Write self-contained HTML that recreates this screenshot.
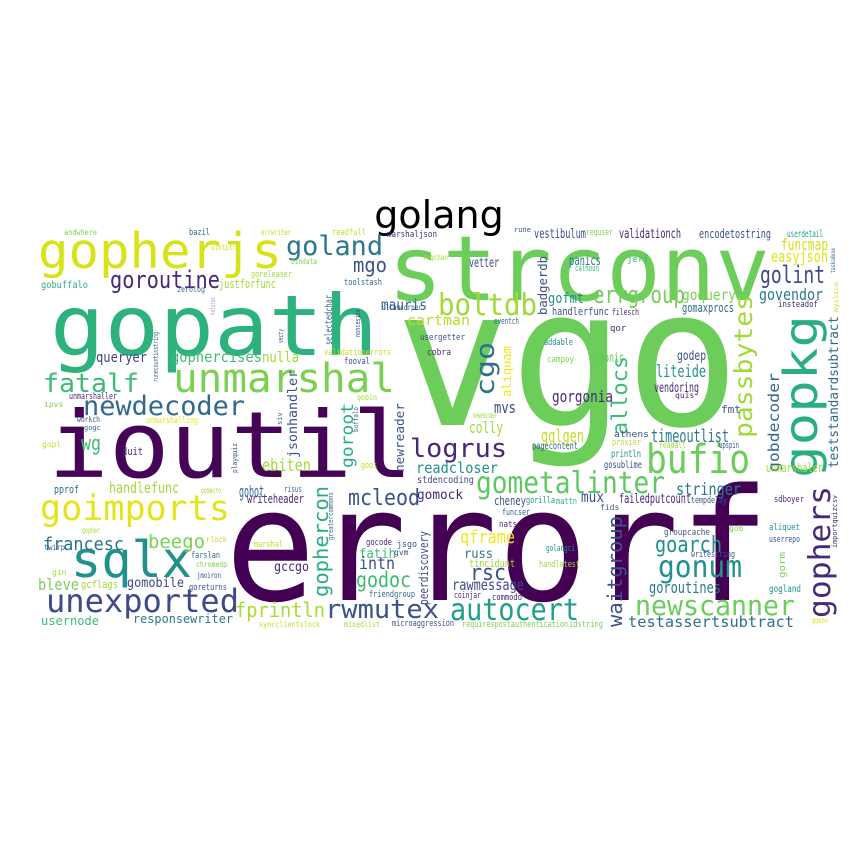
<!DOCTYPE html>
<html><head><meta charset="utf-8"><style>
html,body{margin:0;padding:0;background:#fff;width:864px;height:864px;overflow:hidden}
svg{display:block}
text{font-family:"DejaVu Sans Mono","Liberation Mono",monospace}
</style></head><body>
<svg width="864" height="864" viewBox="0 0 864 864" xmlns="http://www.w3.org/2000/svg">
<rect width="864" height="864" fill="#fff"/>
<text x="439" y="228" font-size="38" fill="#000" text-anchor="middle" style="font-family:'DejaVu Sans','Liberation Sans',sans-serif">golang</text>
<g>
<text x="395" y="425" font-size="192" fill="#6ccd5a" textLength="345" lengthAdjust="spacingAndGlyphs">vgo</text>
<text x="225" y="600" font-size="156" fill="#440154" textLength="545" lengthAdjust="spacingAndGlyphs">errorf</text>
<text x="48" y="477" font-size="92" fill="#450457" textLength="365" lengthAdjust="spacingAndGlyphs">ioutil</text>
<text x="50" y="355" font-size="84" fill="#2db27d" textLength="328" lengthAdjust="spacingAndGlyphs">gopath</text>
<text x="388" y="300" font-size="90" fill="#6ccd5a" textLength="382" lengthAdjust="spacingAndGlyphs">strconv</text>
<text x="38" y="268" font-size="49" fill="#d8e219" textLength="244" lengthAdjust="spacingAndGlyphs">gopherjs</text>
<text x="173" y="392" font-size="40" fill="#7ad151" textLength="222" lengthAdjust="spacingAndGlyphs">unmarshal</text>
<text x="71" y="577" font-size="50" fill="#21918c" textLength="121" lengthAdjust="spacingAndGlyphs">sqlx</text>
<text x="40" y="520" font-size="35" fill="#e5e419" textLength="190" lengthAdjust="spacingAndGlyphs">goimports</text>
<text x="46" y="612" font-size="32" fill="#3e4a89" textLength="193" lengthAdjust="spacingAndGlyphs">unexported</text>
<text x="43" y="392" font-size="26" fill="#3dbc74" textLength="96" lengthAdjust="spacingAndGlyphs">fatalf</text>
<text x="83" y="415" font-size="27" fill="#31688e" textLength="162" lengthAdjust="spacingAndGlyphs">newdecoder</text>
<text x="110" y="288" font-size="24" fill="#482878" textLength="110" lengthAdjust="spacingAndGlyphs">goroutine</text>
<text x="286" y="255" font-size="27" fill="#2a788e" textLength="97" lengthAdjust="spacingAndGlyphs">goland</text>
<text x="353" y="272" font-size="20" fill="#3b528b" textLength="34" lengthAdjust="spacingAndGlyphs">mgo</text>
<text x="438" y="315" font-size="30" fill="#a0da39" textLength="99" lengthAdjust="spacingAndGlyphs">boltdb</text>
<text x="593" y="303" font-size="24" fill="#73d056" textLength="92" lengthAdjust="spacingAndGlyphs">errgroup</text>
<text x="760" y="283" font-size="24" fill="#3e4a89" textLength="65" lengthAdjust="spacingAndGlyphs">golint</text>
<text x="646" y="473" font-size="40" fill="#6ccd5a" textLength="104" lengthAdjust="spacingAndGlyphs">bufio</text>
<text x="410" y="457" font-size="26" fill="#482878" textLength="97" lengthAdjust="spacingAndGlyphs">logrus</text>
<text x="476" y="493" font-size="30" fill="#5ec962" textLength="189" lengthAdjust="spacingAndGlyphs">gometalinter</text>
<text x="348" y="505" font-size="22" fill="#3b528b" textLength="72" lengthAdjust="spacingAndGlyphs">mcleod</text>
<text x="658" y="577" font-size="30" fill="#21918c" textLength="84" lengthAdjust="spacingAndGlyphs">gonum</text>
<text x="655" y="552" font-size="22" fill="#21918c" textLength="67" lengthAdjust="spacingAndGlyphs">goarch</text>
<text x="450" y="620" font-size="30" fill="#1f9e89" textLength="129" lengthAdjust="spacingAndGlyphs">autocert</text>
<text x="635" y="615" font-size="28" fill="#6ccd5a" textLength="160" lengthAdjust="spacingAndGlyphs">newscanner</text>
<text x="325" y="618" font-size="26" fill="#3b528b" textLength="114" lengthAdjust="spacingAndGlyphs">rwmutex</text>
<text x="235" y="617" font-size="20" fill="#a8db34" textLength="90" lengthAdjust="spacingAndGlyphs">fprintln</text>
<text x="628" y="627" font-size="15" fill="#2c728e" textLength="166" lengthAdjust="spacingAndGlyphs">testassertsubtract</text>
<text x="356" y="587" font-size="21" fill="#3dbc74" textLength="55" lengthAdjust="spacingAndGlyphs">godoc</text>
<text x="470" y="580" font-size="22" fill="#3b528b" textLength="36" lengthAdjust="spacingAndGlyphs">rsc</text>
<text x="460" y="543" font-size="18" fill="#f1e51d" textLength="55" lengthAdjust="spacingAndGlyphs">qframe</text>
<text x="148" y="548" font-size="19" fill="#7ad151" textLength="57" lengthAdjust="spacingAndGlyphs">beego</text>
<text x="43" y="550" font-size="18" fill="#2c728e" textLength="81" lengthAdjust="spacingAndGlyphs">francesc</text>
<text transform="translate(817,478) rotate(-90)" font-size="46" fill="#29af7f" textLength="163" lengthAdjust="spacingAndGlyphs">gopkg</text>
<text transform="translate(830,618) rotate(-90)" font-size="30" fill="#482878" textLength="132" lengthAdjust="spacingAndGlyphs">gophers</text>
<text transform="translate(752,438) rotate(-90)" font-size="25" fill="#a0da39" textLength="143" lengthAdjust="spacingAndGlyphs">passbytes</text>
<text transform="translate(779,472) rotate(-90)" font-size="15" fill="#31688e" textLength="99" lengthAdjust="spacingAndGlyphs">gobdecoder</text>
<text transform="translate(838,468) rotate(-90)" font-size="13" fill="#31688e" textLength="152" lengthAdjust="spacingAndGlyphs">teststandardsubtract</text>
<text transform="translate(622,627) rotate(-90)" font-size="20" fill="#3b528b" textLength="111" lengthAdjust="spacingAndGlyphs">waitgroup</text>
<text transform="translate(328,597) rotate(-90)" font-size="20" fill="#29af7f" textLength="111" lengthAdjust="spacingAndGlyphs">gophercon</text>
<text transform="translate(428,605) rotate(-90)" font-size="12" fill="#3e4a89" textLength="74" lengthAdjust="spacingAndGlyphs">peerdiscovery</text>
<text transform="translate(297,458) rotate(-90)" font-size="13" fill="#3b528b" textLength="88" lengthAdjust="spacingAndGlyphs">jsonhandler</text>
<text transform="translate(353,468) rotate(-90)" font-size="17" fill="#29af7f" textLength="65" lengthAdjust="spacingAndGlyphs">goroot</text>
<text transform="translate(404,472) rotate(-90)" font-size="12" fill="#3b528b" textLength="69" lengthAdjust="spacingAndGlyphs">newreader</text>
<text transform="translate(494,396) rotate(-90)" font-size="26" fill="#2c728e" textLength="54" lengthAdjust="spacingAndGlyphs">cgo</text>
<text transform="translate(627,435) rotate(-90)" font-size="21" fill="#3dbc74" textLength="79" lengthAdjust="spacingAndGlyphs">allocs</text>
<text transform="translate(511,397) rotate(-90)" font-size="12" fill="#f1e51d" textLength="51" lengthAdjust="spacingAndGlyphs">aliquam</text>
<text transform="translate(547,315) rotate(-90)" font-size="12" fill="#3b528b" textLength="59" lengthAdjust="spacingAndGlyphs">badgerdb</text>
<text transform="translate(332,345) rotate(-90)" font-size="10" fill="#31688e" textLength="50" lengthAdjust="spacingAndGlyphs">selectedchar</text>
<text transform="translate(158,382) rotate(-90)" font-size="7" fill="#3b528b" textLength="50" lengthAdjust="spacingAndGlyphs">runecountinstring</text>
<text transform="translate(333,540) rotate(-90)" font-size="7" fill="#31688e" textLength="48" lengthAdjust="spacingAndGlyphs">greatercommons</text>
<text transform="translate(237,473) rotate(-90)" font-size="7" fill="#3b528b" textLength="30" lengthAdjust="spacingAndGlyphs">playquiz</text>
<text transform="translate(360,337) rotate(-90)" font-size="7" fill="#3b528b" textLength="28" lengthAdjust="spacingAndGlyphs">noncesize</text>
<text transform="translate(283,343) rotate(-90)" font-size="7" fill="#3b528b" textLength="14" lengthAdjust="spacingAndGlyphs">vecty</text>
<text transform="translate(282,425) rotate(-90)" font-size="7" fill="#31688e">siv</text>
<text transform="translate(358,432) rotate(-90)" font-size="7" fill="#31688e" textLength="25" lengthAdjust="spacingAndGlyphs">buffalo</text>
<text transform="translate(215,315) rotate(-90)" font-size="7" fill="#b5a0d0" textLength="18" lengthAdjust="spacingAndGlyphs">kataras</text>
<text transform="translate(785,578) rotate(-90)" font-size="9" fill="#7ad151" textLength="26" lengthAdjust="spacingAndGlyphs">gorm</text>
<text transform="translate(837,548) rotate(-90)" font-size="7" fill="#482878" textLength="53" lengthAdjust="spacingAndGlyphs">importquizcsv</text>
<text transform="translate(835,273) rotate(-90)" font-size="6" fill="#31688e" textLength="25" lengthAdjust="spacingAndGlyphs">tasksdone</text>
<text transform="translate(838,312) rotate(-90)" font-size="6" fill="#c2df23" textLength="30" lengthAdjust="spacingAndGlyphs">myslice</text>
<text x="381" y="310" font-size="15" fill="#31688e" textLength="46" lengthAdjust="spacingAndGlyphs">mauris</text>
<text x="407" y="325" font-size="14" fill="#b5de2b" textLength="63" lengthAdjust="spacingAndGlyphs">cartman</text>
<text x="96" y="362" font-size="14" fill="#414487" textLength="51" lengthAdjust="spacingAndGlyphs">queryer</text>
<text x="171" y="362" font-size="15" fill="#3dbc74" textLength="91" lengthAdjust="spacingAndGlyphs">gophercises</text>
<text x="262" y="362" font-size="14" fill="#a0da39" textLength="37" lengthAdjust="spacingAndGlyphs">nulla</text>
<text x="548" y="303" font-size="14" fill="#21918c" textLength="36" lengthAdjust="spacingAndGlyphs">gofmt</text>
<text x="552" y="315" font-size="11" fill="#3b528b" textLength="57" lengthAdjust="spacingAndGlyphs">handlerfunc</text>
<text x="612" y="315" font-size="9" fill="#482878" textLength="27" lengthAdjust="spacingAndGlyphs">filesch</text>
<text x="682" y="300" font-size="15" fill="#7ad151" textLength="54" lengthAdjust="spacingAndGlyphs">goquery</text>
<text x="759" y="300" font-size="16" fill="#2a788e" textLength="64" lengthAdjust="spacingAndGlyphs">govendor</text>
<text x="682" y="312" font-size="12" fill="#31688e" textLength="52" lengthAdjust="spacingAndGlyphs">gomaxprocs</text>
<text x="778" y="307" font-size="9" fill="#482878" textLength="40" lengthAdjust="spacingAndGlyphs">insteadof</text>
<text x="771" y="262" font-size="16" fill="#e2e418" textLength="57" lengthAdjust="spacingAndGlyphs">easyjson</text>
<text x="781" y="250" font-size="16" fill="#d0e11c" textLength="47" lengthAdjust="spacingAndGlyphs">funcmap</text>
<text x="699" y="238" font-size="12" fill="#3b528b" textLength="72" lengthAdjust="spacingAndGlyphs">encodetostring</text>
<text x="787" y="237" font-size="10" fill="#1f9e89" textLength="36" lengthAdjust="spacingAndGlyphs">userdetail</text>
<text x="619" y="238" font-size="13" fill="#482878" textLength="62" lengthAdjust="spacingAndGlyphs">validationch</text>
<text x="534" y="238" font-size="13" fill="#3b528b" textLength="52" lengthAdjust="spacingAndGlyphs">vestibulum</text>
<text x="586" y="235" font-size="9" fill="#7ad151" textLength="27" lengthAdjust="spacingAndGlyphs">requser</text>
<text x="514" y="232" font-size="7" fill="#3b528b">rune</text>
<text x="469" y="267" font-size="13" fill="#3e4a89" textLength="30" lengthAdjust="spacingAndGlyphs">vetter</text>
<text x="569" y="265" font-size="13" fill="#2a788e" textLength="32" lengthAdjust="spacingAndGlyphs">panics</text>
<text x="575" y="271" font-size="9" fill="#35b779" textLength="24" lengthAdjust="spacingAndGlyphs">calhoun</text>
<text x="627" y="262" font-size="9" fill="#35b779">jerf</text>
<text x="423" y="260" font-size="8" fill="#a0da39" textLength="25" lengthAdjust="spacingAndGlyphs">reqchan</text>
<text x="494" y="324" font-size="9" fill="#31688e" textLength="25" lengthAdjust="spacingAndGlyphs">eventch</text>
<text x="610" y="331" font-size="9" fill="#482878">qor</text>
<text x="420" y="340" font-size="9" fill="#3b528b" textLength="45" lengthAdjust="spacingAndGlyphs">usergetter</text>
<text x="544" y="345" font-size="9" fill="#21918c" textLength="29" lengthAdjust="spacingAndGlyphs">addable</text>
<text x="427" y="355" font-size="9" fill="#482878" textLength="24" lengthAdjust="spacingAndGlyphs">cobra</text>
<text x="547" y="362" font-size="9" fill="#7ad151" textLength="27" lengthAdjust="spacingAndGlyphs">campoy</text>
<text x="599" y="362" font-size="13" fill="#5ec962" textLength="25" lengthAdjust="spacingAndGlyphs">gonic</text>
<text x="677" y="360" font-size="13" fill="#3b528b" textLength="29" lengthAdjust="spacingAndGlyphs">godep</text>
<text x="656" y="377" font-size="17" fill="#21918c" textLength="50" lengthAdjust="spacingAndGlyphs">liteide</text>
<text x="654" y="392" font-size="13" fill="#482878" textLength="45" lengthAdjust="spacingAndGlyphs">vendoring</text>
<text x="675" y="398" font-size="8" fill="#482878">quis</text>
<text x="552" y="402" font-size="16" fill="#482878" textLength="61" lengthAdjust="spacingAndGlyphs">gorgonia</text>
<text x="494" y="413" font-size="16" fill="#3e4a89" textLength="22" lengthAdjust="spacingAndGlyphs">mvs</text>
<text x="473" y="418" font-size="8" fill="#a0da39" textLength="24" lengthAdjust="spacingAndGlyphs">newencoder</text>
<text x="469" y="433" font-size="16" fill="#a0da39" textLength="34" lengthAdjust="spacingAndGlyphs">colly</text>
<text x="721" y="413" font-size="11" fill="#3b528b">fmt</text>
<text x="719" y="448" font-size="9" fill="#3b528b" textLength="20" lengthAdjust="spacingAndGlyphs">upspin</text>
<text x="766" y="472" font-size="12" fill="#a0da39" textLength="57" lengthAdjust="spacingAndGlyphs">unmarshaler</text>
<text x="774" y="502" font-size="9" fill="#482878" textLength="30" lengthAdjust="spacingAndGlyphs">sdboyer</text>
<text x="769" y="530" font-size="9" fill="#21918c" textLength="31" lengthAdjust="spacingAndGlyphs">aliquet</text>
<text x="769" y="542" font-size="9" fill="#3b528b" textLength="31" lengthAdjust="spacingAndGlyphs">userrepo</text>
<text x="769" y="592" font-size="10" fill="#21918c" textLength="32" lengthAdjust="spacingAndGlyphs">gogland</text>
<text x="812" y="623" font-size="8" fill="#d8e219" textLength="16" lengthAdjust="spacingAndGlyphs">goenv</text>
<text x="729" y="531" font-size="8" fill="#7ad151">gob</text>
<text x="651" y="442" font-size="18" fill="#2a788e" textLength="78" lengthAdjust="spacingAndGlyphs">timeoutlist</text>
<text x="614" y="437" font-size="9" fill="#3b528b" textLength="35" lengthAdjust="spacingAndGlyphs">athens</text>
<text x="612" y="445" font-size="9" fill="#b5de2b" textLength="29" lengthAdjust="spacingAndGlyphs">proxier</text>
<text x="659" y="448" font-size="9" fill="#a0da39" textLength="27" lengthAdjust="spacingAndGlyphs">readall</text>
<text x="611" y="457" font-size="10" fill="#21918c" textLength="30" lengthAdjust="spacingAndGlyphs">println</text>
<text x="604" y="468" font-size="10" fill="#3b528b" textLength="38" lengthAdjust="spacingAndGlyphs">gosublime</text>
<text x="541" y="442" font-size="18" fill="#c2df23" textLength="43" lengthAdjust="spacingAndGlyphs">gqlgen</text>
<text x="532" y="449" font-size="10" fill="#31688e" textLength="46" lengthAdjust="spacingAndGlyphs">pagecontent</text>
<text x="416" y="473" font-size="15" fill="#21918c" textLength="82" lengthAdjust="spacingAndGlyphs">readcloser</text>
<text x="417" y="483" font-size="10" fill="#3e4a89" textLength="57" lengthAdjust="spacingAndGlyphs">stdencoding</text>
<text x="417" y="499" font-size="13" fill="#482878" textLength="46" lengthAdjust="spacingAndGlyphs">gomock</text>
<text x="676" y="495" font-size="17" fill="#2a788e" textLength="65" lengthAdjust="spacingAndGlyphs">stringer</text>
<text x="494" y="505" font-size="12" fill="#3b528b" textLength="32" lengthAdjust="spacingAndGlyphs">cheney</text>
<text x="526" y="503" font-size="9" fill="#21918c" textLength="29" lengthAdjust="spacingAndGlyphs">gorilla</text>
<text x="556" y="504" font-size="9" fill="#35b779" textLength="21" lengthAdjust="spacingAndGlyphs">mattn</text>
<text x="581" y="502" font-size="15" fill="#3b528b" textLength="23" lengthAdjust="spacingAndGlyphs">mux</text>
<text x="600" y="510" font-size="8" fill="#3b528b">fids</text>
<text x="619" y="503" font-size="13" fill="#482878" textLength="72" lengthAdjust="spacingAndGlyphs">failedputcount</text>
<text x="691" y="503" font-size="9" fill="#3b528b" textLength="36" lengthAdjust="spacingAndGlyphs">tempdelay</text>
<text x="502" y="515" font-size="9" fill="#31688e" textLength="28" lengthAdjust="spacingAndGlyphs">funcser</text>
<text x="499" y="527" font-size="9" fill="#482878" textLength="18" lengthAdjust="spacingAndGlyphs">nats</text>
<text x="664" y="535" font-size="9" fill="#3b528b" textLength="46" lengthAdjust="spacingAndGlyphs">groupcache</text>
<text x="691" y="557" font-size="9" fill="#3b528b" textLength="44" lengthAdjust="spacingAndGlyphs">writestring</text>
<text x="546" y="551" font-size="9" fill="#21918c" textLength="29" lengthAdjust="spacingAndGlyphs">golangci</text>
<text x="539" y="567" font-size="9" fill="#a0da39" textLength="41" lengthAdjust="spacingAndGlyphs">handletest</text>
<text x="464" y="558" font-size="13" fill="#2a788e" textLength="29" lengthAdjust="spacingAndGlyphs">russ</text>
<text x="469" y="567" font-size="11" fill="#a0da39" textLength="46" lengthAdjust="spacingAndGlyphs">tincidunt</text>
<text x="452" y="590" font-size="15" fill="#3e4a89" textLength="72" lengthAdjust="spacingAndGlyphs">rawmessage</text>
<text x="454" y="598" font-size="9" fill="#482878" textLength="27" lengthAdjust="spacingAndGlyphs">coinjar</text>
<text x="492" y="600" font-size="9" fill="#482878" textLength="30" lengthAdjust="spacingAndGlyphs">commodo</text>
<text x="649" y="593" font-size="16" fill="#2a788e" textLength="72" lengthAdjust="spacingAndGlyphs">goroutines</text>
<text x="462" y="627" font-size="9" fill="#7ad151" textLength="106" lengthAdjust="spacingAndGlyphs">requirespostauthentication</text>
<text x="569" y="627" font-size="9" fill="#7ad151" textLength="34" lengthAdjust="spacingAndGlyphs">idstring</text>
<text x="392" y="626" font-size="9" fill="#3b528b" textLength="62" lengthAdjust="spacingAndGlyphs">microaggression</text>
<text x="259" y="627" font-size="8" fill="#c2df23" textLength="61" lengthAdjust="spacingAndGlyphs">syncclientslock</text>
<text x="344" y="627" font-size="8" fill="#a0da39" textLength="36" lengthAdjust="spacingAndGlyphs">mixedlist</text>
<text x="41" y="625" font-size="12" fill="#3dbc74" textLength="58" lengthAdjust="spacingAndGlyphs">usernode</text>
<text x="133" y="623" font-size="12" fill="#2a788e" textLength="100" lengthAdjust="spacingAndGlyphs">responsewriter</text>
<text x="38" y="590" font-size="16" fill="#7ad151" textLength="41" lengthAdjust="spacingAndGlyphs">bleve</text>
<text x="81" y="588" font-size="11" fill="#a0da39" textLength="37" lengthAdjust="spacingAndGlyphs">gcflags</text>
<text x="127" y="587" font-size="13" fill="#404688" textLength="57" lengthAdjust="spacingAndGlyphs">gomobile</text>
<text x="274" y="571" font-size="13" fill="#482878" textLength="35" lengthAdjust="spacingAndGlyphs">gccgo</text>
<text x="359" y="558" font-size="13" fill="#3dbc74" textLength="37" lengthAdjust="spacingAndGlyphs">fatih</text>
<text x="359" y="569" font-size="17" fill="#3b528b" textLength="36" lengthAdjust="spacingAndGlyphs">intn</text>
<text x="366" y="545" font-size="9" fill="#482878" textLength="26" lengthAdjust="spacingAndGlyphs">gocode</text>
<text x="397" y="547" font-size="9" fill="#3b528b" textLength="20" lengthAdjust="spacingAndGlyphs">jsgo</text>
<text x="394" y="555" font-size="8" fill="#3b528b">gvm</text>
<text x="369" y="597" font-size="9" fill="#31688e" textLength="46" lengthAdjust="spacingAndGlyphs">friendgroup</text>
<text x="81" y="450" font-size="20" fill="#3dbc74" textLength="20" lengthAdjust="spacingAndGlyphs">wg</text>
<text x="42" y="447" font-size="8" fill="#c2df23">gopl</text>
<text x="122" y="455" font-size="11" fill="#482878" textLength="21" lengthAdjust="spacingAndGlyphs">duit</text>
<text x="262" y="471" font-size="17" fill="#a0da39" textLength="49" lengthAdjust="spacingAndGlyphs">ebiten</text>
<text x="361" y="468" font-size="9" fill="#c2df23" textLength="16" lengthAdjust="spacingAndGlyphs">goos</text>
<text x="54" y="493" font-size="11" fill="#31688e" textLength="25" lengthAdjust="spacingAndGlyphs">pprof</text>
<text x="109" y="493" font-size="15" fill="#a0da39" textLength="70" lengthAdjust="spacingAndGlyphs">handlefunc</text>
<text x="201" y="493" font-size="8" fill="#a0da39" textLength="20" lengthAdjust="spacingAndGlyphs">gomacro</text>
<text x="284" y="492" font-size="9" fill="#31688e" textLength="18" lengthAdjust="spacingAndGlyphs">risus</text>
<text x="239" y="497" font-size="16" fill="#31688e" textLength="25" lengthAdjust="spacingAndGlyphs">gobot</text>
<text x="247" y="503" font-size="12" fill="#482878" textLength="57" lengthAdjust="spacingAndGlyphs">writeheader</text>
<text x="82" y="533" font-size="8" fill="#a0da39" textLength="18" lengthAdjust="spacingAndGlyphs">gopher</text>
<text x="44" y="550" font-size="8" fill="#31688e" textLength="21" lengthAdjust="spacingAndGlyphs">twirp</text>
<text x="206" y="542" font-size="8" fill="#c2df23" textLength="21" lengthAdjust="spacingAndGlyphs">rlock</text>
<text x="254" y="547" font-size="9" fill="#c2df23" textLength="29" lengthAdjust="spacingAndGlyphs">marshal</text>
<text x="191" y="558" font-size="9" fill="#31688e" textLength="29" lengthAdjust="spacingAndGlyphs">farslan</text>
<text x="196" y="567" font-size="8" fill="#7ad151" textLength="31" lengthAdjust="spacingAndGlyphs">chromedp</text>
<text x="52" y="575" font-size="8" fill="#a0da39">gin</text>
<text x="197" y="578" font-size="8" fill="#3b528b" textLength="24" lengthAdjust="spacingAndGlyphs">jmoiron</text>
<text x="189" y="590" font-size="9" fill="#3b528b" textLength="38" lengthAdjust="spacingAndGlyphs">goreturns</text>
<text x="64" y="235" font-size="8" fill="#7ad151" textLength="33" lengthAdjust="spacingAndGlyphs">andwhere</text>
<text x="189" y="235" font-size="9" fill="#31688e" textLength="21" lengthAdjust="spacingAndGlyphs">bazil</text>
<text x="261" y="235" font-size="8" fill="#c2df23" textLength="30" lengthAdjust="spacingAndGlyphs">errwriter</text>
<text x="332" y="235" font-size="9" fill="#c2df23" textLength="34" lengthAdjust="spacingAndGlyphs">readfull</text>
<text x="387" y="237" font-size="9" fill="#482878" textLength="50" lengthAdjust="spacingAndGlyphs">marshaljson</text>
<text x="211" y="250" font-size="8" fill="#c2df23" textLength="25" lengthAdjust="spacingAndGlyphs">uintptr</text>
<text x="291" y="264" font-size="8" fill="#7ad151" textLength="26" lengthAdjust="spacingAndGlyphs">bindata</text>
<text x="251" y="277" font-size="9" fill="#a0da39" textLength="41" lengthAdjust="spacingAndGlyphs">goreleaser</text>
<text x="41" y="288" font-size="10" fill="#29af7f" textLength="47" lengthAdjust="spacingAndGlyphs">gobuffalo</text>
<text x="177" y="292" font-size="8" fill="#31688e" textLength="28" lengthAdjust="spacingAndGlyphs">zerolog</text>
<text x="219" y="288" font-size="12" fill="#a0da39" textLength="57" lengthAdjust="spacingAndGlyphs">justforfunc</text>
<text x="344" y="285" font-size="9" fill="#31688e" textLength="38" lengthAdjust="spacingAndGlyphs">toolstash</text>
<text x="382" y="310" font-size="8" fill="#3b528b" textLength="40" lengthAdjust="spacingAndGlyphs">ullamcorper</text>
<text x="324" y="355" font-size="9" fill="#c2df23" textLength="67" lengthAdjust="spacingAndGlyphs">validationerrors</text>
<text x="344" y="364" font-size="9" fill="#3b528b" textLength="26" lengthAdjust="spacingAndGlyphs">fooval</text>
<text x="357" y="400" font-size="8" fill="#a0da39" textLength="20" lengthAdjust="spacingAndGlyphs">gobin</text>
<text x="69" y="399" font-size="9" fill="#482878" textLength="48" lengthAdjust="spacingAndGlyphs">unmarshaller</text>
<text x="44" y="407" font-size="8" fill="#7ad151">ipvs</text>
<text x="146" y="423" font-size="9" fill="#e5e419" textLength="52" lengthAdjust="spacingAndGlyphs">unmarshalling</text>
<text x="77" y="422" font-size="8" fill="#3b528b" textLength="23" lengthAdjust="spacingAndGlyphs">workch</text>
<text x="84" y="430" font-size="7" fill="#31688e">gogc</text>
</g>
</svg>
</body></html>
